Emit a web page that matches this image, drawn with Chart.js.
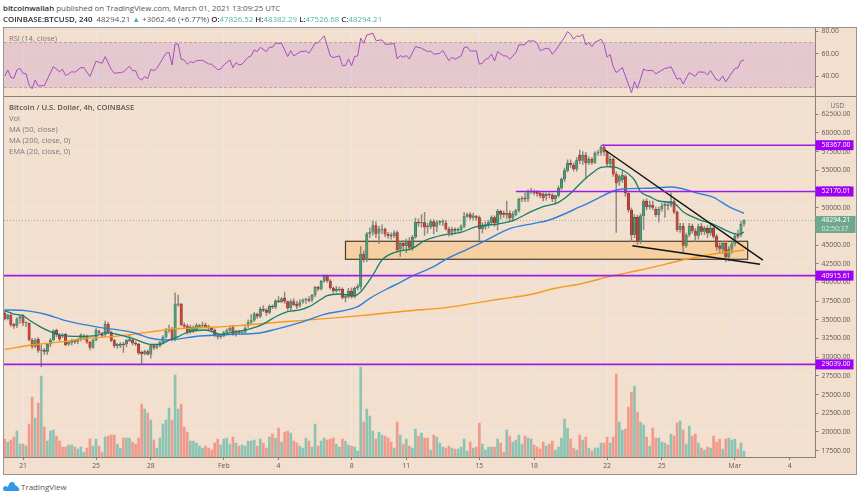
<!DOCTYPE html>
<html>
<head>
<meta charset="utf-8">
<title>BTCUSD 4h</title>
<script src="https://cdn.jsdelivr.net/npm/chart.js@4/dist/chart.umd.min.js"></script>
<style>
  html, body { margin: 0; padding: 0; background: #fff; }
  body { width: 860px; height: 498px; position: relative; overflow: hidden; font-family: "Open Sans", sans-serif; }
  #frame { position: absolute; left: 3px; top: 27px; width: 852px; height: 446px; border: 1px solid #9a9590; background: #f2dfcd; }
  #divider { position: absolute; left: 4px; top: 96px; width: 852px; height: 1px; background: #85807b; }
  canvas { position: absolute; left: 4px; }
  #rsiChart { top: 28px; }
  #priceChart { top: 97px; }
  .t { position: absolute; white-space: nowrap; line-height: 11px; font-size: 7.6px; color: #7c7873; }
  .t b { font-weight: 600; color: #2e2e2e; }
  .v { color: #4fb5a2; }
  .head { color: #555; font-size: 7.9px; }
</style>
</head>
<body>
<div id="frame"></div>
<canvas id="rsiChart" width="852" height="68"></canvas>
<canvas id="priceChart" width="852" height="377"></canvas>
<div id="divider"></div>

<div class="t head" style="left:3px;top:3px"><b>bitcoinwallah</b> published on TradingView.com, March 01, 2021 13:09:25 UTC</div>
<div class="t head" style="left:3px;top:14px"><b>COINBASE:BTCUSD, 240</b>&nbsp; 48294.21 <span class="v">▲</span> +3062.46 (+6.77%) <b>O:</b><span class="v">47826.52</span> <b>H:</b><span class="v">48382.29</span> <b>L:</b><span class="v">47526.68</span> <b>C:</b><span class="v">48294.21</span></div>

<div class="t" style="left:9px;top:33px">RSI (14, close)</div>
<div class="t" style="left:9px;top:102px;color:#5a5652;font-weight:600">Bitcoin / U.S. Dollar, 4h, COINBASE</div>
<div class="t" style="left:9px;top:113px">Vol</div>
<div class="t" style="left:9px;top:124px">MA (50, close)</div>
<div class="t" style="left:9px;top:135px">MA (200, close, 0)</div>
<div class="t" style="left:9px;top:146px">EMA (20, close, 0)</div>

<svg style="position:absolute;left:3px;top:481px" width="17" height="11" viewBox="0 0 17 11">
  <path d="M0 8 Q0 5 3 5 L5 6 Q6 1 9 1 Q12 1 12 4 L15 6 Q17 8 16 10 L2 10 Q0 10 0 8 Z" fill="#2f9ae6"/>
</svg>
<div class="t" style="left:21px;top:481px;font-size:8px;color:#555">TradingView</div>

<script>
// candles are 4h apart, index 0 is Jan 21 00:00
const firstCandle = -6;

const opens = [
  35870, 35110, 35650, 34400, 34220, 35110, 35430, 34530, 34530, 32300,
  31410, 32390, 30870, 30920, 30740, 31720, 32300, 33600, 32970, 32930,
  33060, 31720, 31950, 32220, 32080, 32350, 32620, 32790, 31990, 31280,
  32300, 33420, 33060, 32970, 34400, 33330, 32220, 31500, 31545, 31770,
  31720, 32220, 32300, 31860, 31720, 30650, 30430, 30740, 30380, 31545,
  31280, 31545, 31990, 32660, 33500, 33730, 32300, 37000, 37120, 34300,
  34170, 33330, 33500, 33650, 34090, 34220, 34310, 34090, 33860, 33640,
  32880, 32700, 32850, 33300, 33550, 33950, 33000, 33450, 33250, 33300,
  34200, 34650, 34900, 35750, 35450, 36400, 36300, 35950, 36800, 36700,
  37550, 37400, 37900, 37450, 36550, 37450, 37100, 36900, 37430, 37660,
  37700, 37650, 38280, 39350, 39080, 40150, 40870, 40200, 39260, 38860,
  39000, 39080, 37970, 38100, 38860, 38100, 39220, 39440, 43810, 43010,
  46490, 46670, 47600, 46580, 47050, 47110, 46440, 46350, 46220, 46660,
  44440, 45240, 44880, 45550, 44660, 46040, 48090, 47910, 48000, 47560,
  47470, 48140, 47470, 48000, 48050, 47910, 47110, 46670, 47110, 46930,
  47020, 47470, 48810, 49100, 48670, 48810, 48670, 47160, 47470, 47690,
  48000, 48670, 47910, 49520, 49250, 49000, 49250, 48580, 49030, 49610,
  51120, 51260, 51120, 52150, 52150, 52060, 51930, 51840, 51570, 51790,
  51700, 51120, 51610, 52600, 53800, 54960, 55940, 55720, 55140, 57060,
  56300, 57060, 55940, 56480, 56030, 57280, 57370, 58080, 57460, 55850,
  56480, 54470, 53500, 53700, 54160, 51930, 49700, 46350, 48700, 45460,
  48900, 50900, 50050, 50370, 49790, 49030, 49790, 50230, 50400, 50320,
  50810, 49380, 47020, 47510, 44920, 46350, 47550, 46890, 46260, 47470,
  46800, 47240, 46570, 47240, 46130, 44900, 44400, 45240, 43360, 44430,
  45150, 46300, 46350, 47826.52
];
const closes = [
  35110, 35650, 34310, 34130, 35110, 35430, 34540, 34620, 32300, 31410,
  32300, 30870, 30960, 30740, 31720, 32300, 33500, 33060, 32390, 32790,
  31630, 31950, 32220, 32080, 32350, 32970, 32790, 31990, 31280, 32300,
  33640, 33330, 32880, 34400, 33330, 32220, 31500, 31720, 31770, 31630,
  32220, 32350, 31860, 31720, 30520, 30430, 30740, 30380, 31545, 31280,
  31545, 31990, 32660, 33500, 33730, 32300, 37100, 37150, 34310, 34100,
  33330, 34000, 34000, 34220, 34220, 34310, 34090, 33860, 33640, 32880,
  32750, 32850, 33300, 33550, 33900, 33050, 33500, 33250, 33300, 33900,
  34650, 34900, 35800, 35450, 36400, 36250, 35950, 36800, 36700, 37550,
  37400, 37800, 37450, 36550, 37450, 37000, 36800, 37300, 37660, 37750,
  37550, 38280, 39350, 39080, 40150, 40870, 40200, 39260, 38860, 39080,
  39130, 37970, 38100, 38860, 38100, 39220, 39440, 43810, 43010, 46490,
  46670, 47600, 46440, 47110, 47150, 46440, 46220, 46220, 46650, 44350,
  45240, 44880, 45550, 44660, 46040, 48090, 47910, 48000, 47380, 47470,
  48140, 47470, 48000, 48140, 48200, 47110, 46580, 47110, 46930, 47110,
  47470, 48810, 49100, 48670, 48900, 48670, 47160, 47600, 47600, 48000,
  48670, 47910, 49520, 49070, 49070, 49250, 48580, 49160, 49610, 51120,
  51260, 51120, 52150, 52240, 51930, 51840, 51570, 51260, 51790, 51700,
  51120, 51610, 52600, 53800, 54960, 55940, 55720, 55140, 56300, 56300,
  57060, 55940, 56480, 56030, 57280, 57370, 58080, 57460, 55850, 56480,
  54470, 53260, 54160, 54350, 51930, 49700, 46350, 48700, 45460, 48900,
  50900, 50050, 50370, 50010, 49030, 49790, 50230, 50450, 50320, 50810,
  49380, 47020, 47510, 44920, 46350, 47550, 46890, 46260, 47470, 46800,
  47240, 46570, 47240, 46130, 44700, 44500, 45240, 43360, 44430, 45150,
  46220, 46130, 47780, 48294.21
];
const highs = [
  36300, 35750, 35800, 34530, 35290, 35560, 35700, 34750, 34600, 32530,
  32530, 32620, 31630, 31190, 31860, 32530, 33690, 33780, 33190, 33190,
  33190, 32080, 32440, 32390, 32530, 33150, 33060, 32970, 32170, 32440,
  33860, 33640, 33300, 34850, 34670, 33500, 32440, 31860, 31950, 32000,
  32440, 33060, 32530, 32080, 31860, 30830, 30960, 30960, 31720, 31720,
  31720, 32080, 32880, 33860, 34310, 34000, 38600, 38300, 37200, 34600,
  34400, 34300, 34200, 34500, 34400, 34700, 34600, 34300, 33950, 33800,
  33000, 33100, 33500, 33800, 34200, 34250, 33600, 33600, 33550, 34100,
  35000, 35700, 36000, 35900, 36700, 36900, 36500, 37000, 37000, 37700,
  38100, 38000, 38700, 37500, 37700, 37800, 37500, 37700, 37800, 37900,
  38100, 38400, 39500, 39500, 40300, 41000, 41000, 40400, 39400, 39500,
  39400, 39300, 38400, 39200, 39300, 39400, 39800, 44800, 44200, 46700,
  47300, 48200, 48100, 47500, 47700, 47300, 46700, 46650, 46900, 46900,
  45500, 45600, 45800, 46000, 46300, 48600, 48500, 49100, 49400, 47900,
  48400, 48400, 48300, 48300, 48400, 48300, 47400, 47400, 47300, 47300,
  47700, 49400, 49300, 49400, 49300, 49000, 48900, 48000, 48100, 48300,
  48900, 48900, 49800, 49700, 49600, 50900, 49600, 49500, 49800, 51300,
  51500, 52000, 52400, 52600, 52400, 52300, 52100, 52000, 52000, 52000,
  51900, 51700, 52900, 54000, 55300, 56400, 56400, 56000, 56700, 57700,
  57500, 57400, 56800, 56700, 57500, 57700, 58350, 58367, 57500, 56900,
  56700, 54800, 54400, 54900, 54400, 52000, 50000, 49100, 49000, 49200,
  51100, 51200, 50900, 50900, 50100, 50100, 50600, 50700, 50800, 52000,
  51100, 49600, 47900, 47900, 46600, 47900, 47800, 47200, 47800, 47900,
  47500, 47600, 47900, 47500, 46400, 45300, 45500, 45500, 44800, 45400,
  46600, 47000, 48200, 48382.29
];
const lows = [
  34980, 34980, 34090, 33860, 33950, 34530, 34220, 34090, 32170, 31190,
  31280, 30650, 28730, 30380, 30380, 31410, 32170, 32750, 32220, 32620,
  31500, 31540, 31630, 31810, 31810, 32170, 32350, 31860, 30960, 31190,
  32170, 33060, 32600, 32750, 33150, 32080, 31280, 31190, 31280, 30650,
  31410, 32080, 31630, 31540, 30380, 29050, 30300, 30300, 29850, 31010,
  31100, 31370, 31810, 32530, 33330, 32170, 32170, 36800, 34200, 33900,
  33100, 33200, 33300, 33500, 33900, 34100, 34000, 33700, 33500, 32700,
  32400, 32500, 32700, 33200, 33400, 32900, 32800, 33100, 33050, 33200,
  34000, 34500, 34800, 35200, 35300, 36100, 35600, 35800, 36500, 36500,
  37300, 37300, 37200, 36300, 36300, 36900, 36500, 36700, 37200, 37200,
  37400, 37400, 38100, 38900, 39000, 40000, 40000, 39100, 38600, 38700,
  38800, 37800, 37400, 37900, 37900, 37950, 39000, 39100, 42700, 42800,
  46000, 46300, 46000, 45200, 46500, 46100, 45900, 45800, 46000, 44100,
  43500, 44400, 44000, 44300, 44300, 45900, 47500, 47400, 46300, 46600,
  47200, 46500, 46800, 47700, 47600, 47000, 46200, 46300, 46500, 46700,
  46800, 47300, 48700, 48400, 48400, 48300, 45600, 46600, 47100, 47300,
  47700, 47500, 47000, 48500, 48700, 48500, 48300, 48200, 48900, 49400,
  50800, 50800, 50800, 51900, 51700, 51500, 51300, 50900, 51000, 51300,
  50800, 50500, 51400, 52400, 53500, 54800, 55400, 54900, 54900, 55900,
  55800, 53900, 55800, 55800, 55900, 57000, 57000, 57000, 55600, 55400,
  54200, 46700, 53000, 53400, 51500, 49400, 45500, 46000, 45100, 45200,
  47100, 49700, 49800, 49700, 48800, 48100, 49500, 48700, 49700, 50100,
  49200, 46800, 46700, 44100, 44700, 46100, 46600, 45500, 45800, 46400,
  46400, 46000, 46300, 45900, 44300, 43900, 43900, 42800, 42900, 43900,
  44900, 45900, 46100, 47526.68
];
const volumes = [
  18, 15, 17, 20, 26, 13, 13, 11, 33, 60,
  39, 54, 81, 30, 16, 26, 27, 21, 16, 10,
  10, 12, 12, 10, 8, 10, 5, 9, 18, 11,
  18, 11, 5, 20, 21, 22, 22, 13, 9, 19,
  19, 19, 15, 13, 19, 53, 48, 44, 37, 17,
  9, 19, 33, 37, 49, 37, 82, 48, 53, 30,
  25, 16, 16, 14, 11, 9, 11, 9, 7, 14,
  18, 12, 18, 19, 13, 20, 14, 11, 12, 11,
  16, 16, 17, 11, 18, 14, 9, 20, 23, 19,
  29, 15, 25, 26, 24, 16, 14, 11, 9, 19,
  16, 10, 33, 11, 16, 19, 17, 18, 19, 13,
  10, 18, 16, 12, 11, 10, 6, 90, 35, 48,
  41, 26, 18, 25, 22, 21, 19, 15, 9, 35,
  22, 13, 18, 11, 9, 28, 21, 24, 19, 19,
  7, 22, 20, 14, 10, 9, 11, 9, 8, 8,
  10, 18, 6, 15, 9, 10, 34, 13, 7, 10,
  10, 10, 18, 14, 5, 27, 21, 15, 17, 22,
  13, 21, 19, 18, 12, 10, 8, 15, 11, 13,
  16, 7, 10, 19, 38, 29, 18, 9, 7, 22,
  17, 20, 9, 6, 9, 9, 14, 14, 20, 14,
  20, 83, 35, 27, 28, 50, 65, 71, 45, 35,
  32, 20, 11, 29, 19, 19, 15, 14, 12, 23,
  21, 34, 36, 27, 13, 31, 21, 23, 14, 9,
  7, 10, 9, 21, 15, 18, 8, 18, 19, 17,
  18, 8, 14, 6
];

// moving averages, read at their bends
const ema20X = [-6, -3, 0, 2, 6, 9, 12, 19, 24, 27, 31, 36, 42, 45, 48, 51, 54, 60, 65, 69, 72, 77, 80, 83, 87, 91, 94, 98, 100, 104, 109, 111, 115, 118, 123, 128, 132, 138, 144, 149, 156, 161, 167, 171, 176, 180, 183, 187, 190, 193, 197, 201, 203, 206, 209, 214, 217, 222, 227, 232, 235, 237];
const ema20 = [36230, 35780, 35560, 34980, 34000, 33418, 32970, 32790, 32880, 33280, 33060, 32526, 31720, 31720, 32300, 32750, 33330, 33640, 33060, 33330, 33550, 34090, 34670, 35420, 36100, 36320, 36760, 37750, 38240, 38460, 38240, 38770, 41000, 43010, 44120, 44570, 45600, 46350, 46710, 47470, 47820, 48270, 49470, 50140, 50720, 51930, 53180, 54600, 55400, 55495, 55050, 53710, 52150, 51480, 50900, 50590, 49470, 48450, 47780, 46800, 46440, 46750];
const ma50X = [-6, 0, 7, 14, 25, 33, 37, 42, 47, 58, 69, 77, 83, 91, 99, 110, 114, 120, 124, 128, 135, 139, 146, 152, 160, 168, 173, 183, 189, 194, 197, 205, 213, 216, 222, 227, 232, 237];
const ma50 = [36320, 36270, 35780, 34890, 34000, 33550, 33200, 32530, 32300, 32840, 33060, 33200, 33730, 34620, 35740, 36760, 37880, 39220, 40020, 40870, 42120, 43100, 44440, 45600, 47200, 47910, 48360, 50100, 51260, 52240, 52510, 52600, 52770, 52600, 51930, 51400, 50140, 49250];
const ma200X = [-6, 3, 13, 21, 29, 36, 44, 49, 54, 62, 71, 77, 91, 111, 126, 139, 148, 157, 166, 175, 183, 194, 203, 211, 218, 227, 232, 237];
const ma200 = [31050, 31630, 32080, 32530, 32750, 33060, 33500, 33775, 33860, 34000, 34220, 34445, 34900, 35560, 36180, 36630, 37210, 37790, 38320, 39220, 39800, 40910, 41670, 42430, 43100, 43810, 44080, 44340];

// rsi line, read at its turning points
const rsiX = [-6, -5, -4, -3, -2, -1, 0, 1, 2, 3, 4, 5, 7, 10, 12, 13, 14, 15, 16, 17, 19, 20, 22, 24, 26, 27, 29, 30, 32, 33, 35, 36, 37, 38, 39, 40, 41, 42, 43, 44, 46, 47, 48, 49, 50, 51, 52, 53, 54, 55, 56, 57, 59, 61, 62, 64, 65, 66, 68, 69, 70, 71, 72, 74, 75, 76, 77, 78, 80, 81, 82, 83, 85, 87, 88, 89, 91, 93, 94, 96, 97, 99, 101, 102, 104, 105, 106, 107, 108, 109, 110, 111, 112, 113, 115, 116, 118, 119, 121, 122, 123, 124, 125, 126, 127, 129, 131, 133, 134, 135, 137, 138, 140, 141, 142, 144, 145, 146, 147, 149, 150, 151, 152, 153, 154, 155, 156, 158, 159, 160, 162, 163, 165, 166, 168, 169, 170, 172, 173, 174, 175, 178, 179, 180, 181, 182, 183, 184, 185, 186, 187, 188, 190, 191, 192, 193, 194, 195, 197, 200, 201, 202, 204, 205, 207, 208, 211, 212, 213, 215, 216, 217, 219, 221, 222, 224, 225, 226, 228, 229, 230, 231, 234, 235, 236, 237];
const rsiValues = [40.3, 45.6, 39.1, 38.2, 45.6, 47.1, 42.7, 42.1, 32.3, 29.0, 36.7, 31.4, 31.7, 48.6, 44.1, 46.2, 40.6, 42.1, 44.1, 43.6, 47.7, 47.7, 39.7, 53.3, 51.6, 57.5, 46.2, 42.7, 43.3, 43.9, 48.9, 45.0, 45.0, 38.5, 36.7, 39.7, 37.9, 46.2, 45.0, 47.1, 56.0, 60.4, 61.3, 50.0, 68.7, 68.7, 55.1, 54.5, 50.7, 53.0, 52.1, 53.9, 54.2, 51.0, 50.7, 45.9, 46.5, 50.1, 54.5, 47.7, 52.1, 50.1, 50.7, 56.9, 58.1, 63.4, 61.9, 65.8, 61.9, 65.8, 65.8, 69.3, 69.3, 57.5, 62.8, 58.1, 61.6, 62.5, 60.4, 69.3, 69.9, 75.9, 58.1, 56.6, 58.1, 49.5, 49.5, 55.4, 49.5, 57.5, 58.1, 73.8, 69.3, 76.7, 78.2, 71.7, 72.3, 68.4, 68.7, 69.3, 55.4, 58.4, 56.9, 58.4, 55.4, 66.4, 64.9, 61.9, 62.5, 59.6, 60.4, 62.8, 53.9, 56.9, 55.1, 58.1, 65.5, 66.1, 62.5, 62.5, 50.7, 51.6, 55.1, 56.0, 59.9, 53.6, 61.9, 58.1, 58.1, 55.1, 61.0, 67.9, 68.1, 71.4, 71.4, 69.3, 62.8, 64.9, 64.3, 59.6, 62.8, 74.7, 79.7, 77.3, 72.9, 75.9, 75.3, 77.3, 67.9, 69.9, 66.4, 70.2, 72.9, 68.4, 56.9, 59.6, 48.6, 43.3, 47.7, 25.5, 35.3, 29.3, 46.5, 45.0, 45.3, 42.1, 47.1, 47.4, 48.6, 37.3, 38.5, 33.2, 43.3, 40.0, 43.9, 43.6, 41.2, 45.0, 36.7, 36.4, 40.3, 35.0, 47.1, 47.4, 53.6, 54.5];

const dayTicks = [0, 24, 42, 66, 84, 108, 126, 150, 168, 192, 210, 234, 252];
const dayLabels = ['21', '25', '28', 'Feb', '4', '8', '11', '15', '18', '22', '25', 'Mar', '4'];
const priceTicks = [17500, 20000, 22500, 25000, 27500, 30000, 32500, 35000, 37500, 40000, 42500, 45000, 47500, 50000, 52500, 55000, 57500, 60000, 62500];
const rsiTicks = [40, 60, 80];

// drawn levels and trendlines
const levelPrices = [58367.00, 52170.01, 40915.61, 29039.00];
const levelStarts = [190.2, 162, -6.25, -6.25];
const fallingLineX = [191.3, 243.2];
const fallingLineY = [57720, 43000];
const floorLineX = [200.3, 242.3];
const floorLineY = [44920, 42430];
const boxX = [106, 238.2];
const boxY = [43100, 45510];
const lastPrice = 48294.21;
const countdown = '02:50:37';

const FONT = '"Open Sans", sans-serif';
const X_MIN = -6.25, X_MAX = 260.5, AXIS_W = 40.5;
const GRID = 'rgba(236, 230, 232, 0.9)';
const LABEL = '#5d5955';
const PURPLE = '#9a1de6';

const candleX = opens.map((_, i) => firstCandle + i);
const isUp = i => closes[i] >= opens[i];
const pairs = (xs, ys) => xs.map((x, i) => ({ x, y: ys[i] }));

function xAxis() {
  return {
    type: 'linear', min: X_MIN, max: X_MAX, offset: false,
    grid: { color: GRID, lineWidth: 1, tickColor: '#85807b', tickLength: 3, offset: false },
    border: { color: '#85807b' },
    afterBuildTicks: s => { s.ticks = dayTicks.map(value => ({ value })); },
    ticks: {
      autoSkip: false, maxRotation: 0, padding: 2, color: LABEL,
      font: { family: FONT, size: 6.8 },
      callback: (v, i) => dayLabels[i]
    }
  };
}

function yAxis(min, max, tickList) {
  return {
    type: 'linear', position: 'right', min, max,
    // the label overhang must not push the plot area down
    afterFit: s => { s.width = AXIS_W; s.paddingTop = 0; s.paddingBottom = 0; },
    afterBuildTicks: s => { s.ticks = tickList.map(value => ({ value })); },
    grid: { color: GRID, tickColor: '#85807b', tickLength: 3 },
    border: { color: '#85807b' },
    ticks: {
      autoSkip: false, padding: 3, color: LABEL,
      font: { family: FONT, size: 6.8 },
      callback: v => v.toFixed(2)
    }
  };
}

function tag(ctx, scale, price, color, lines, w, h) {
  const y = scale.getPixelForValue(price);
  const x = scale.left;
  ctx.save();
  ctx.fillStyle = color;
  ctx.fillRect(x, y - h / 2, w, h);
  ctx.font = '6.8px ' + FONT;
  ctx.textBaseline = 'middle';
  lines.forEach((text, i) => {
    ctx.fillStyle = i === 0 ? '#fff' : 'rgba(255,255,255,0.75)';
    ctx.fillText(text, x + 6, y - h / 2 + (h / lines.length) * (i + 0.5));
  });
  ctx.restore();
}

// orange zone sits under the candles
const zonePlugin = {
  id: 'zone',
  beforeDatasetsDraw(chart) {
    const { ctx, scales: { x, y } } = chart;
    const left = x.getPixelForValue(boxX[0]), right = x.getPixelForValue(boxX[1]);
    const top = y.getPixelForValue(boxY[1]), bottom = y.getPixelForValue(boxY[0]);
    ctx.save();
    ctx.fillStyle = '#f6cfa3';
    ctx.strokeStyle = '#4b3d2e';
    ctx.lineWidth = 1.2;
    ctx.fillRect(left, top, right - left, bottom - top);
    ctx.strokeRect(left, top, right - left, bottom - top);
    const py = y.getPixelForValue(lastPrice);
    ctx.strokeStyle = '#8fb59a';
    ctx.lineWidth = 1;
    ctx.setLineDash([1, 2]);
    ctx.beginPath();
    ctx.moveTo(x.left, py);
    ctx.lineTo(x.right, py);
    ctx.stroke();
    ctx.restore();
  }
};

// price tags on the right axis
const tagPlugin = {
  id: 'tags',
  afterDraw(chart) {
    const { ctx, scales: { y } } = chart;
    levelPrices.forEach(p => tag(ctx, y, p, '#9f00f5', [p.toFixed(2)], 38, 10));
    tag(ctx, y, lastPrice - 535, '#6fa98c', [lastPrice.toFixed(2), countdown], 40, 17);
    ctx.save();
    ctx.strokeStyle = '#e0d8d2';
    ctx.strokeRect(y.left + 12, 5, 18, 9);
    ctx.fillStyle = '#6a6662';
    ctx.font = '6.8px ' + FONT;
    ctx.textBaseline = 'middle';
    ctx.fillText('USD', y.left + 15, 9.5);
    ctx.restore();
  }
};

const rsiBandPlugin = {
  id: 'rsiBand',
  beforeDatasetsDraw(chart) {
    const { ctx, scales: { x, y } } = chart;
    const top = y.getPixelForValue(70), bottom = y.getPixelForValue(30);
    ctx.save();
    ctx.fillStyle = 'rgba(200, 150, 210, 0.3)';
    ctx.fillRect(x.left, top, x.right - x.left, bottom - top);
    ctx.strokeStyle = '#b5a8a8';
    ctx.setLineDash([3, 2]);
    [top, bottom].forEach(py => {
      ctx.beginPath();
      ctx.moveTo(x.left, py);
      ctx.lineTo(x.right, py);
      ctx.stroke();
    });
    ctx.restore();
  }
};

new Chart(document.getElementById('rsiChart'), {
  type: 'line',
  data: {
    datasets: [{
      data: pairs(rsiX, rsiValues), borderColor: '#a84cc0', borderWidth: 1, pointRadius: 0, tension: 0
    }]
  },
  options: {
    responsive: false, animation: false, events: [],
    layout: { padding: 0 },
    plugins: { legend: { display: false }, tooltip: { enabled: false } },
    scales: {
      x: Object.assign(xAxis(), {
        ticks: { display: false },
        grid: { color: GRID, drawTicks: false },
        border: { display: false },
        afterFit: s => { s.height = 0; }
      }),
      y: yAxis(22.5, 82.9, rsiTicks)
    }
  },
  plugins: [rsiBandPlugin]
});

const lineSet = (data, color, width, order) => ({
  type: 'line', data, borderColor: color, borderWidth: width, pointRadius: 0, order, yAxisID: 'y', parsing: true
});

new Chart(document.getElementById('priceChart'), {
  type: 'bar',
  data: {
    datasets: [
      ...levelPrices.map((p, i) => lineSet([{ x: levelStarts[i], y: p }, { x: X_MAX, y: p }], PURPLE, 1.6, 1)),
      lineSet(pairs(fallingLineX, fallingLineY), '#111', 1.4, 1),
      lineSet(pairs(floorLineX, floorLineY), '#111', 1.4, 1),
      Object.assign(lineSet(pairs(ema20X, ema20), '#12806a', 1.3, 2), { cubicInterpolationMode: 'monotone' }),
      Object.assign(lineSet(pairs(ma50X, ma50), '#2f80dc', 1.4, 3), { cubicInterpolationMode: 'monotone' }),
      Object.assign(lineSet(pairs(ma200X, ma200), '#f59a1c', 1.4, 4), { cubicInterpolationMode: 'monotone' }),
      {
        label: 'bodies', order: 5, yAxisID: 'y', barThickness: 2.4, borderWidth: 0.5,
        data: candleX.map((x, i) => ({ x, y: [opens[i], closes[i]] })),
        backgroundColor: c => isUp(c.dataIndex) ? '#4f9a78' : '#c4473a',
        borderColor: c => isUp(c.dataIndex) ? '#2c6a50' : '#7c2c25'
      },
      {
        label: 'wicks', order: 6, yAxisID: 'y', barThickness: 0.8,
        data: candleX.map((x, i) => ({ x, y: [lows[i], highs[i]] })),
        backgroundColor: '#8b8782'
      },
      {
        label: 'volume', order: 7, yAxisID: 'vol', barThickness: 2,
        data: candleX.map((x, i) => ({ x, y: volumes[i] })),
        backgroundColor: c => isUp(c.dataIndex) ? '#8cc3b2' : '#f09a8d'
      }
    ]
  },
  options: {
    responsive: false, animation: false, events: [],
    layout: { padding: 0 },
    datasets: { bar: { grouped: false } },
    plugins: { legend: { display: false }, tooltip: { enabled: false } },
    scales: {
      x: Object.assign(xAxis(), { afterFit: s => { s.height = 17; } }),
      y: yAxis(16650, 64815, priceTicks),
      vol: { type: 'linear', display: false, min: 0, max: 360 }
    }
  },
  plugins: [zonePlugin, tagPlugin]
});
</script>
</body>
</html>
